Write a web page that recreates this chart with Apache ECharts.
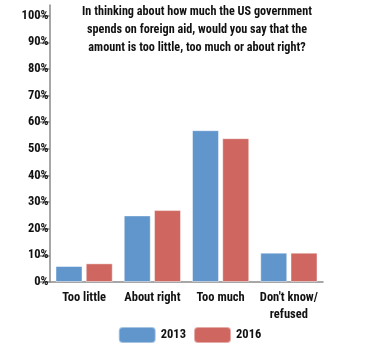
<!DOCTYPE html>
<html><head><meta charset="utf-8">
<script src="https://cdn.jsdelivr.net/npm/echarts@6/dist/echarts.min.js"></script>
<style>html,body{margin:0;padding:0;background:#fff}#c{width:379px;height:346px}</style>
</head><body><div id="c"></div>
<script>
const categories = ['Too little', 'About right', 'Too much', "Don't know/\nrefused"];
const series2013 = [6, 25, 57, 11];
const series2016 = [7, 27, 54, 11];
const yTicks = [0, 10, 20, 30, 40, 50, 60, 70, 80, 90, 100];
const titleText = 'In thinking about how much the US government\nspends on foreign aid, would you say that the\namount is too little, too much or about right?';
const FONT = '"Roboto Condensed", "Open Sans Condensed", sans-serif';
const chart = echarts.init(document.getElementById('c'), null, {renderer: 'canvas'});
chart.setOption({
  animation: false,
  title: {
    text: titleText, left: 192, top: -2, textAlign: 'center',
    textStyle: {fontFamily: FONT, fontWeight: 'bold', fontSize: 12.2, lineHeight: 18, color: '#111'}
  },
  legend: {
    top: 326, left: 'center', itemWidth: 37, itemHeight: 16, itemGap: 7, padding: 0,
    textStyle: {fontFamily: FONT, fontWeight: 'bold', fontSize: 12.5, color: '#111'},
    data: ['2013', '2016']
  },
  grid: {left: 50, right: 56, top: 5, bottom: 64},
  xAxis: {
    type: 'category', data: categories,
    axisLine: {lineStyle: {color: '#8a8a8a', width: 1.5}},
    axisTick: {length: 8, lineStyle: {color: '#8a8a8a', width: 1.5}},
    axisLabel: {fontFamily: FONT, fontWeight: 'bold', fontSize: 12.5, color: '#111', margin: 7, lineHeight: 17, interval: 0}
  },
  yAxis: {
    type: 'value', min: 0, max: 104, interval: 10,
    splitLine: {show: false},
    axisLine: {show: true, lineStyle: {color: '#8a8a8a', width: 1.5}},
    axisTick: {show: true, length: 10, customValues: yTicks, lineStyle: {color: '#8a8a8a', width: 1.5}},
    axisLabel: {customValues: yTicks, formatter: '{value}%', margin: 1.5, fontFamily: FONT, fontWeight: 'bold', fontSize: 12.5, color: '#111'}
  },
  series: [
    {name: '2013', type: 'bar', data: series2013, barWidth: 27, barGap: '12%',
     itemStyle: {color: '#6096CC', borderColor: 'rgba(255,255,255,0.45)', borderWidth: 1}},
    {name: '2016', type: 'bar', data: series2016, barWidth: 27,
     itemStyle: {color: '#CF6660', borderColor: 'rgba(255,255,255,0.45)', borderWidth: 1}}
  ]
});
</script></body></html>
